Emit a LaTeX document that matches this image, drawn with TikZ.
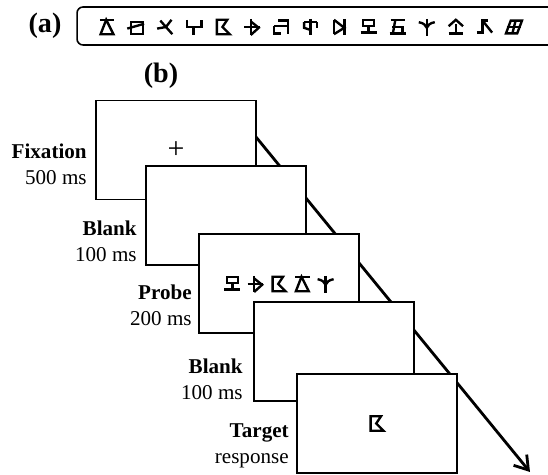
\documentclass[tikz,border=0pt]{standalone}
\usepackage{fontspec}
\setmainfont{Liberation Serif}
\usetikzlibrary{arrows.meta}
\usetikzlibrary{backgrounds}

\tikzset{
  frame/.style={draw, line width=1.1pt, fill=white, minimum width=3.2cm, minimum height=1.98cm, inner sep=0pt},
  lbl/.style={anchor=east, align=right, inner sep=0pt, font=\fontsize{12}{14.7}\selectfont},
  part/.style={font=\fontsize{16}{18}\selectfont\bfseries, inner sep=0pt},
  strip/.style={draw, line width=0.9pt, rounded corners=1.2mm, minimum width=9.66cm, minimum height=0.76cm, inner sep=0pt},
  glyph/.style={xscale=16, yscale=-16, line width=1.35pt},
  flow/.style={line width=1.6pt, -{Straight Barb[length=2.6mm, width=3.4mm, line width=1.6pt]}},
  % the made-up letters
  pics/gTri/.style={code={\draw (-0.45,0.45)--(0.45,0.45); \draw (-0.05,0.45)--(-0.4,-0.45)--(0.4,-0.45)--cycle;}},
  pics/gBox/.style={code={\draw (-0.3,0.3) rectangle (0.45,-0.45); \draw (-0.55,-0.1)--(0.5,0.2);}},
  pics/gCross/.style={code={\draw (-0.5,-0.1)--(0.05,0.0)--(0.4,0.45); \draw (-0.3,0.4)--(0.05,0.0)--(0.45,-0.45);}},
  pics/gFork/.style={code={\draw (-0.45,0.45)--(-0.45,0.0)--(0.45,0.0)--(0.45,0.45); \draw (-0.05,0.0)--(-0.05,-0.5);}},
  pics/gFlag/.style={code={\draw (-0.4,0.45)--(0.25,0.45)--(-0.05,0.0)--(0.4,-0.45)--(-0.4,-0.45)--cycle;}},
  pics/gKite/.style={code={\draw (-0.1,0.5)--(-0.1,-0.5); \draw (-0.1,0.35)--(0.4,-0.05)--(-0.1,-0.5); \draw (-0.5,0.0)--(0.45,0.0);}},
  pics/gHook/.style={code={\draw (-0.2,0.4)--(0.4,0.4)--(0.4,-0.45); \draw (-0.45,0.05)--(0.4,0.05); \draw (-0.45,0.05)--(-0.45,-0.4)--(0.0,-0.4);}},
  pics/gPhi/.style={code={\draw (0,0.5)--(0,-0.5); \draw (-0.4,0.3)--(0.4,0.3); \draw (-0.4,0.3)--(-0.4,-0.05)--(0.05,-0.2); \draw (0.4,0.3)--(0.4,-0.05);}},
  pics/gBow/.style={code={\draw (-0.35,0.45)--(-0.35,-0.45); \draw (-0.35,0.45)--(0.3,-0.05)--(-0.35,-0.45); \draw (0.3,0.5)--(0.3,-0.5);}},
  pics/gMo/.style={code={\draw (-0.35,0.45) rectangle (0.35,0.05); \draw (0,0.05)--(0,-0.35); \draw (-0.5,-0.35)--(0.5,-0.35);}},
  pics/gFive/.style={code={\draw (-0.45,0.45)--(0.45,0.45); \draw (-0.15,0.45)--(-0.3,-0.4); \draw (-0.35,0.0)--(0.3,0.0)--(0.3,-0.4); \draw (-0.5,-0.4)--(0.5,-0.4);}},
  pics/gTree/.style={code={\draw (0,0.5)--(0,-0.55); \draw (-0.5,0.3) .. controls (-0.2,0.25) and (-0.05,0.1) .. (0,-0.05) .. controls (0.05,0.1) and (0.2,0.25) .. (0.5,0.3);}},
  pics/gRoof/.style={code={\draw (-0.45,0.05)--(0,0.45)--(0.45,0.05); \draw (0,0.2)--(0,-0.4); \draw (-0.45,-0.4)--(0.45,-0.4);}},
  pics/gCorner/.style={code={\draw (-0.5,-0.35)--(-0.15,-0.35)--(-0.15,0.4)--(0.2,0.4); \draw (-0.15,0.4)--(0.45,-0.35);}},
  pics/gSlant/.style={code={\draw (-0.2,0.4)--(0.5,0.4)--(0.2,-0.4)--(-0.5,-0.4)--cycle; \draw (-0.45,0.0)--(0.45,0.0); \draw (0.1,0.4)--(-0.1,-0.4);}},
}

\begin{document}
\begin{tikzpicture}[x=0.02cm, y=-0.02cm]
\useasboundingbox (0,0) rectangle (548,475);

% (a) the letter set
\node[part] (parta) at (45,26) {(a)};
\node[strip] (seq) at (318.5,26) {};
\foreach \g [count=\i from 0] in {gTri,gBox,gCross,gFork,gFlag,gKite,gHook,gPhi,gBow,gMo,gFive,gTree,gRoof,gCorner,gSlant}
  \pic[glyph] at (107+29.07*\i,27) {\g};

% (b) the trial
\node[part] (partb) at (161,76) {(b)};
\coordinate (arrS) at (256,137);
\coordinate (arrE) at (530,472);
\draw[flow] (arrS) -- (arrE);

\node[frame] (fix) at (176,150) {};
\node[frame] (blank1) at (226,215.5) {};
\node[frame] (probe) at (279,283.5) {};
\node[frame] (blank2) at (334,351.5) {};
\node[frame] (target) at (377,423.5) {};

\node[inner sep=0pt, font=\fontsize{17}{17}\selectfont] (cross) at (fix.center) {+};
\foreach \g [count=\i from -2] in {gMo,gKite,gFlag,gTri,gTree}
  \pic[glyph] at (279+23.3*\i,284) {\g};
\pic[glyph] at (target.center) {gFlag};

\node[lbl] (fixlbl) at (87,164) {\textbf{Fixation}\\500 ms};
\node[lbl] (blank1lbl) at (137,241) {\textbf{Blank}\\100 ms};
\node[lbl] (probelbl) at (192,305.5) {\textbf{Probe}\\200 ms};
\node[lbl] (blank2lbl) at (243,379.5) {\textbf{Blank}\\100 ms};
\node[lbl] (targetlbl) at (289,446) {\textbf{Target}\\response};

\end{tikzpicture}
\end{document}
